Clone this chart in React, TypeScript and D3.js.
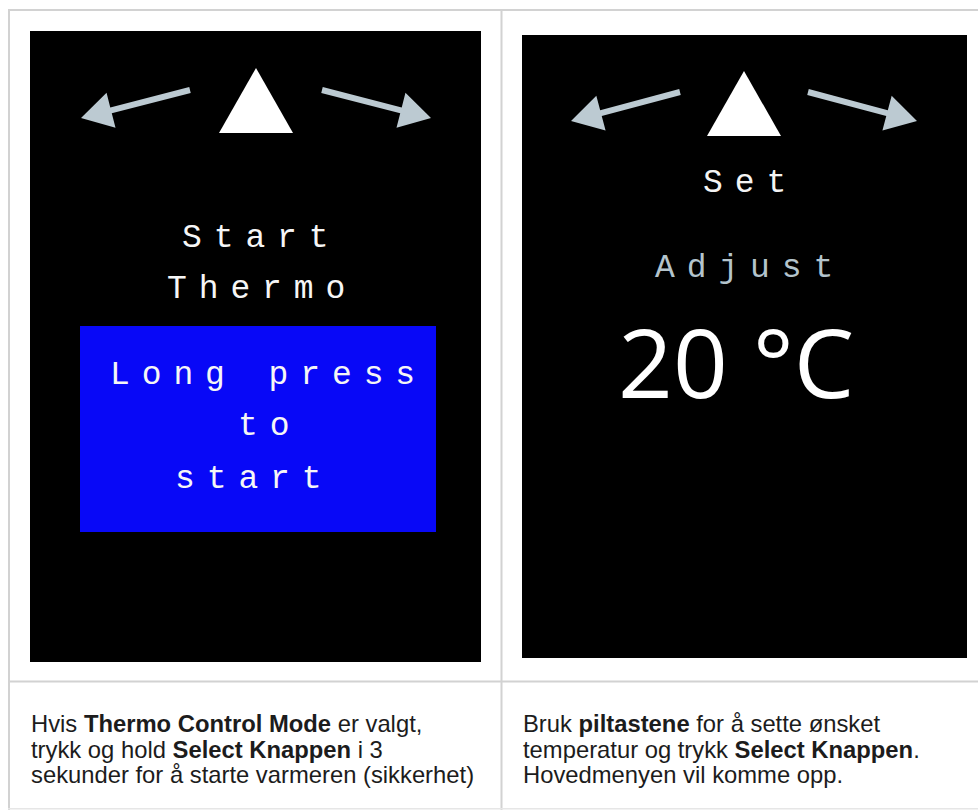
import React from "react";
import * as d3 from "d3";

const W = 978;
const H = 810;

// Table grid
const gridColor = "#d2d2d2";

// Screens
const screens = [
  { x0: 30, x1: 481, y0: 31, y1: 662 },
  { x0: 522, x1: 967, y0: 35, y1: 658 },
];

// Triangles [apexX, apexY, baseY, halfWidth]
const triangles = [
  [256, 68, 133, 37],
  [744, 71, 136, 37],
];

// Arrows [tailX, tailY, tipX, tipY]
const arrows = [
  [190, 90, 81, 118],
  [322, 90, 431, 118],
  [680, 92, 571, 121],
  [808, 92, 917, 121],
];

// Screen texts
const leftLines = ["Start", "Thermo", "Long press", "to", "start"];
const leftX = [182, 167, 110, 238, 175];
const leftY = [247, 298, 384, 435, 488];

const rightLines = ["Set", "Adjust"];
const rightX = [703, 655];
const rightY = [192, 277];
const rightColors = ["#f4f4f4", "#b4c4cc"];

const tempLabel = "20 °C";

const blueBox = { x0: 80, x1: 436, y0: 326, y1: 532 };

// Captions: segments [text, bold]
const captionLeft: [string, boolean][][] = [
  [["Hvis ", false], ["Thermo Control Mode", true], [" er valgt,", false]],
  [["trykk og hold ", false], ["Select Knappen", true], [" i 3", false]],
  [["sekunder for å starte varmeren (sikkerhet)", false]],
];
const captionRight: [string, boolean][][] = [
  [["Bruk ", false], ["piltastene", true], [" for å sette ønsket", false]],
  [["temperatur og trykk ", false], ["Select Knappen", true], [".", false]],
  [["Hovedmenyen vil komme opp.", false]],
];
const captionBaselines = [732, 757.5, 783];

const arrowColor = "#bccad2";

function arrowPath(a: number[]) {
  const [tx, ty, px, py] = a;
  const dx = px - tx;
  const dy = py - ty;
  const len = Math.hypot(dx, dy);
  const ux = dx / len;
  const uy = dy / len;
  const nx = -uy;
  const ny = ux;
  const headLen = 31;
  const headHalf = 18;
  const shaftHalf = 3;
  const bx = px - ux * headLen;
  const by = py - uy * headLen;
  const pts: [number, number][] = [
    [tx + nx * shaftHalf, ty + ny * shaftHalf],
    [bx + nx * shaftHalf, by + ny * shaftHalf],
    [bx + nx * headHalf, by + ny * headHalf],
    [px, py],
    [bx - nx * headHalf, by - ny * headHalf],
    [bx - nx * shaftHalf, by - ny * shaftHalf],
    [tx - nx * shaftHalf, ty - ny * shaftHalf],
  ];
  return d3.line()(pts)! + "Z";
}

function triPath(t: number[]) {
  const [ax, ay, by, hw] = t;
  return (
    d3.line()([
      [ax, ay],
      [ax + hw, by],
      [ax - hw, by],
    ])! + "Z"
  );
}

const mono = "'Liberation Mono', monospace";
const monoSize = 33;
const monoSpacing = 31.7 - 0.6 * monoSize;

export default function App() {
  return (
    <svg
      width={W}
      height={H}
      style={{ position: "absolute", left: 0, top: 0, background: "#fff" }}
    >
      <rect x={0} y={0} width={W} height={H} fill="#fff" />
      {/* grid */}
      <rect x={8} y={9} width={W - 8} height={2} fill={gridColor} />
      <rect x={8} y={9} width={2} height={H - 9} fill={gridColor} />
      <rect x={500.5} y={9} width={2} height={H - 9} fill={gridColor} />
      <rect x={8} y={680.5} width={W - 8} height={2} fill={gridColor} />
      <rect x={8} y={808} width={W - 8} height={1.5} fill="#e6e6e6" />

      {screens.map((s, i) => (
        <rect key={i} x={s.x0} y={s.y0} width={s.x1 - s.x0} height={s.y1 - s.y0} fill="#000" />
      ))}

      <rect
        x={blueBox.x0}
        y={blueBox.y0}
        width={blueBox.x1 - blueBox.x0}
        height={blueBox.y1 - blueBox.y0}
        fill="#0808f7"
      />

      {triangles.map((t, i) => (
        <path key={i} d={triPath(t)} fill="#fff" />
      ))}
      {arrows.map((a, i) => (
        <path key={i} d={arrowPath(a)} fill={arrowColor} />
      ))}

      {leftLines.map((l, i) => (
        <text
          key={i}
          x={leftX[i]}
          y={leftY[i]}
          fill="#f6f6f6"
          fontFamily={mono}
          fontSize={monoSize}
          letterSpacing={monoSpacing}
          style={{ whiteSpace: "pre" }}
        >
          {l}
        </text>
      ))}
      {rightLines.map((l, i) => (
        <text
          key={i}
          x={rightX[i]}
          y={rightY[i]}
          fill={rightColors[i]}
          fontFamily={mono}
          fontSize={monoSize}
          letterSpacing={monoSpacing}
        >
          {l}
        </text>
      ))}
      <text
        x={618}
        y={398}
        fill="#fff"
        fontFamily="'Open Sans', 'Noto Sans', sans-serif"
        fontSize={96}
      >
        {tempLabel}
      </text>

      {[
        { lines: captionLeft, x: 31 },
        { lines: captionRight, x: 523 },
      ].map((c, ci) => (
        <g key={ci}>
          {c.lines.map((segs, li) => (
            <text
              key={li}
              x={c.x}
              y={captionBaselines[li]}
              fill="#1c1c1c"
              fontFamily="'Liberation Sans', Arial, sans-serif"
              fontSize={23.8}
              style={{ whiteSpace: "pre" }}
            >
              {segs.map((s, si) => (
                <tspan key={si} fontWeight={s[1] ? 700 : 400}>
                  {s[0]}
                </tspan>
              ))}
            </text>
          ))}
        </g>
      ))}
    </svg>
  );
}
